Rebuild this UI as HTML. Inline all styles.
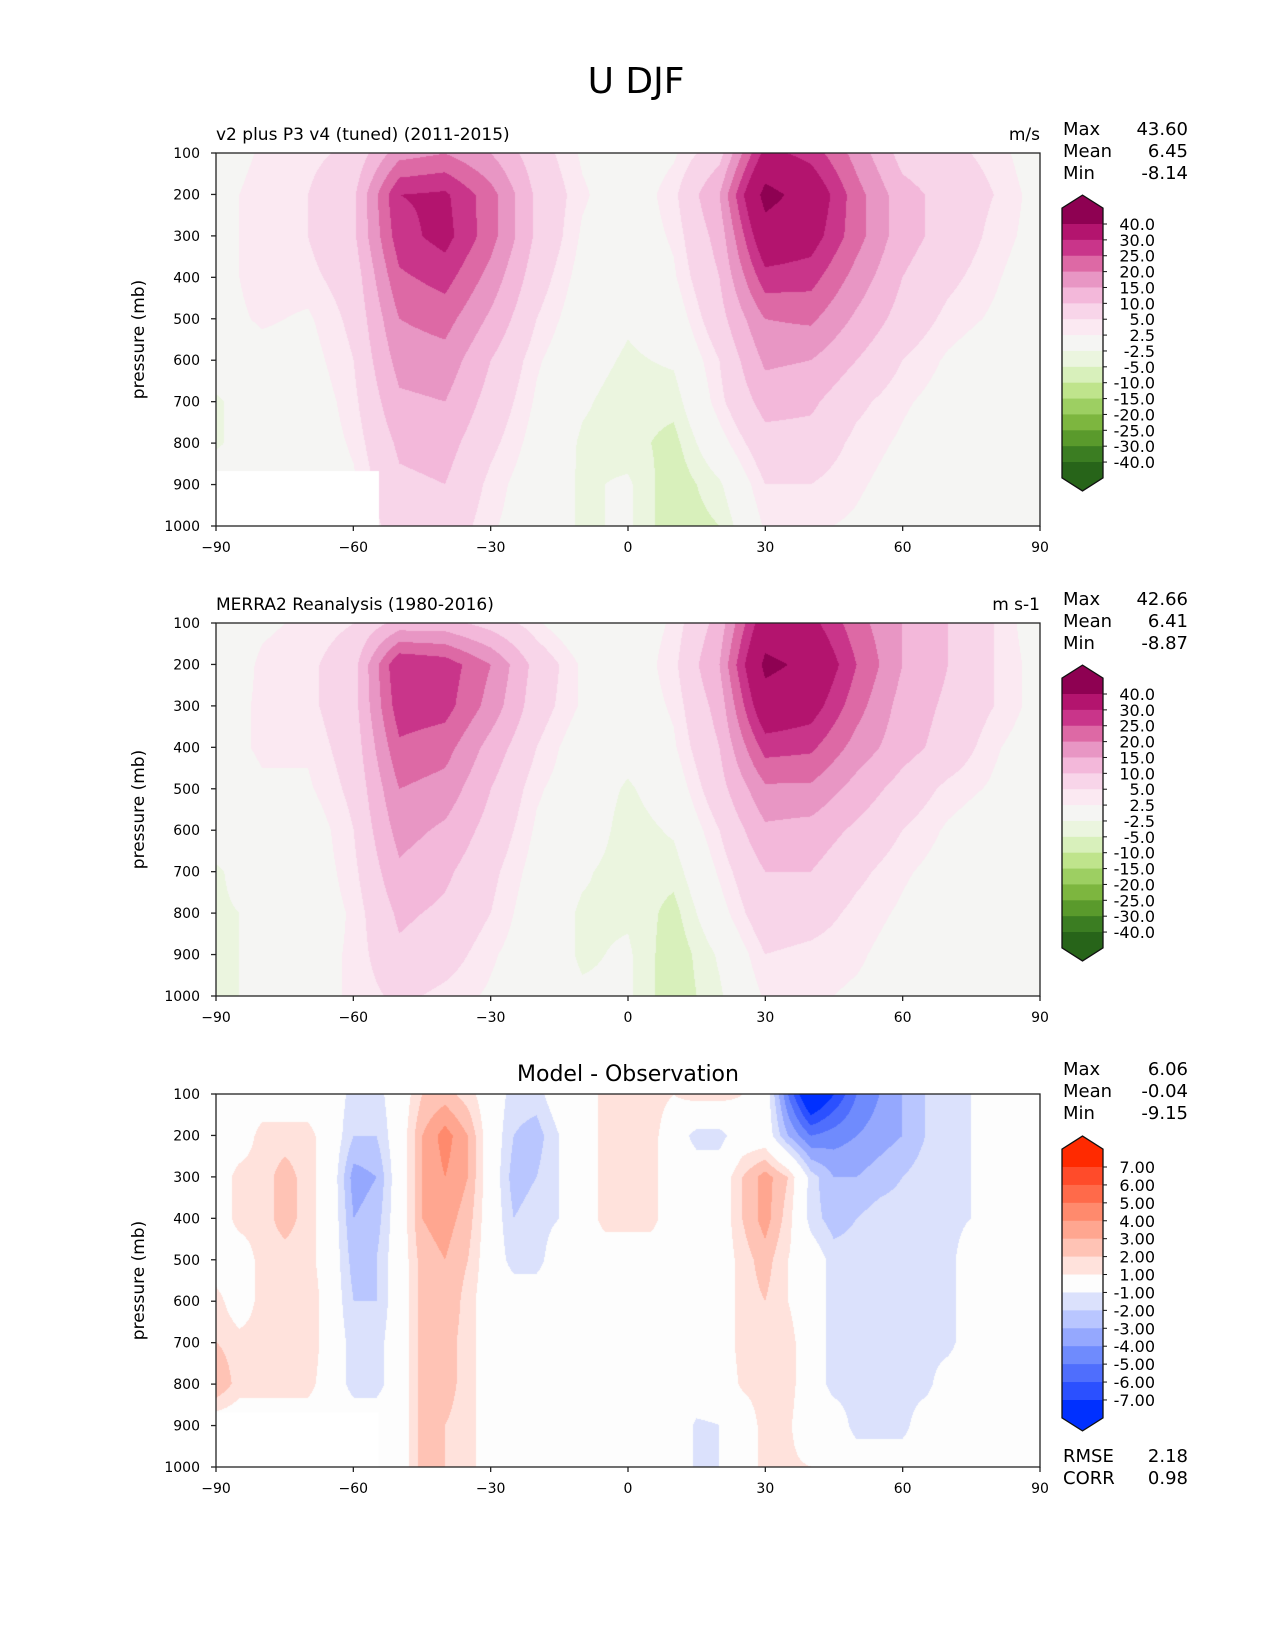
<!DOCTYPE html>
<html><head><meta charset="utf-8"><style>
body{margin:0;background:#fff;}
#root{position:relative;width:1275px;height:1650px;overflow:hidden;font-family:"DejaVu Sans","Liberation Sans",sans-serif;}
canvas{position:absolute;}
svg{position:absolute;left:0;top:0;font-family:"DejaVu Sans","Liberation Sans",sans-serif;}
</style></head><body>
<div id="root">
<canvas id="c1" width="824" height="373" style="left:216px;top:153px"></canvas>
<canvas id="c2" width="824" height="373" style="left:216px;top:623px"></canvas>
<canvas id="c3" width="824" height="373" style="left:216px;top:1094px"></canvas>
<svg id="ov" width="1275" height="1650"></svg>
</div>
<script>
const lats=[-90,-80,-70,-60,-50,-40,-30,-20,-10,0,10,20,30,40,50,60,70,80,90];
const diffLats=[-90,-85,-80,-75,-70,-65,-60,-55,-50,-45,-40,-35,-30,-25,-20,-15,-10,-5,0,5,10,15,20,25,30,35,40,45,50,55,60,65,70,75,80,85,90];
const pressures=[100,200,300,400,500,600,700,800,900,1000];
const modelU=[
[0,3,4,6,18,20,15,7,2,0,2,8,32,28,18,8,6,4,0],
[1,4,5,9,30,31,22,9,3,0,4,15,43,36,22,12,8,5,1],
[1,4,5,9,28,32,22,9,2,0,3,12,36,33,22,12,8,4,1],
[1,4,4,7,24,27,18,7,1,-1,2,10,28,27,18,10,6,3,0],
[1,3,2,6,20,22,14,5,0,-2,0,8,20,21,14,8,4,2,0],
[0,1,1,5,17,18,10,3,-1,-3,-2,5,16,15,10,5,2,0,0],
[-3,0,0,4,14,15,8,2,-2,-4,-4,4,12,11,6,3,1,0,0],
[-3,0,0,3,11,12,6,1,-3,-4,-6,1,8,8,4,2,0,0,0],
[0,0,0,2,9,10,4,0,-3,-2,-7,-3,5,5,3,1,0,0,0],
[0,0,0,2,7,8,3,0,-3,-2,-7,-5,3,3,2,0,0,0,0]];
const obsU=[
[0,2,3,5,12,12,8,3,-1,0,3,12,35,32,22,15,10,5,0],
[0,3,4,8,30,28,20,8,2,0,4,15,42,38,25,15,10,5,1],
[1,3,4,8,28,27,18,7,2,0,3,12,36,33,22,13,9,5,1],
[1,3,3,7,24,22,13,5,0,-1,2,10,27,26,18,12,8,3,0],
[0,2,2,6,20,18,10,3,0,-3,0,8,19,19,13,8,4,2,0],
[0,0,0,5,17,14,8,2,0,-4,-2,5,14,13,9,5,2,0,0],
[-3,0,0,4,14,11,6,1,-2,-4,-4,3,10,10,6,3,1,0,0],
[-3,-2,0,3,11,9,5,0,-3,-3,-6,1,8,7,4,2,0,0,0],
[-3,-2,1,3,9,7,3,0,-3,-2,-7,-2,5,4,3,1,0,0,0],
[-3,-2,1,3,6,4,2,0,-2,-2,-7,-3,3,3,2,1,0,0,0]];
const diffU=[
[0,0,0,0,0,0,-1.5,-1.5,0,2,2.5,1.5,0,-1.5,-1.5,0,0,1.5,1.5,1.5,1,1.5,1.5,1,0,-5,-9,-7,-5,-4,-3,-2,-1.5,-1,0,0,0],
[0,0,1.5,1.5,1.5,0,-2,-2,0,3,4.5,3,0,-2,-2.5,-1,0,1.5,1.5,1.5,0,-1.5,-1.5,0,0,-3,-5,-4.5,-4,-3.5,-3,-2,-1.5,-1,0,0,0],
[0,1.5,1.5,2.5,1.5,0,-3.5,-3,0,3,4,3,0,-2.5,-2,-1,0,1.5,1.5,1.5,0,0,0,2,3.5,2,-1.5,-3,-3,-2.5,-2,-1.5,-1.5,-1,0,0,0],
[0,1.5,1.5,2.5,1.5,0,-3,-2.5,0,3,3.5,2.5,0,-2,-1.5,-1,0,1.5,1.5,1.5,0,0,0,2,3.5,1.5,-1.5,-2.5,-2,-1.5,-1.5,-1.5,-1.5,-1,0,0,0],
[0,0,1.5,1.5,1.5,0,-2.5,-2,0,2.5,3,2,0,-1.5,-1.5,0,0,0,0,0,0,0,0,1.5,2.5,1,0,-1.5,-1.5,-1.5,-1.5,-1.5,-1.5,0,0,0,0],
[1.5,0,1.5,1.5,2,0,-2,-2,0,2.5,3,1.5,0,0,0,0,0,0,0,0,0,0,0,1.5,2,1,0,-1.5,-1.5,-1.5,-1.5,-1.5,-1.5,0,0,0,0],
[2,1.5,1.5,1.5,2,0,-1.5,-1.5,0,2.5,2.5,1.5,0,0,0,0,0,0,0,0,0,0,0,1.5,1.5,1.5,0,-1.5,-1.5,-1.5,-1.5,-1.5,-1.5,0,0,0,0],
[3,1.5,1.5,1.5,1.5,0,-1.5,-1.5,0,2.5,2.5,1.5,0,0,0,0,0,0,0,0,0,0,0,1.2,1.5,1.5,0,-1.5,-1.5,-1.5,-1.5,-1.5,0,0,0,0,0],
[0,0,0,0,0,0,0,0,0,2.5,2,1.5,0,0,0,0,0,0,0,0,0,-1.2,-1,0,1.5,1.2,0,0,-1.5,-1.5,-1.5,0,0,0,0,0,0],
[0,0,0,0,0,0,0,0,0,2.5,2,1.5,0,0,0,0,0,0,0,0,0,-1.2,-1,0,1.5,1.2,1,0,0,0,0,0,0,0,0,0,0]];
const uLevels=[40,30,25,20,15,10,5,2.5,-2.5,-5,-10,-15,-20,-25,-30,-40];
const uLabels=["40.0","30.0","25.0","20.0","15.0","10.0","5.0","2.5","-2.5","-5.0","-10.0","-15.0","-20.0","-25.0","-30.0","-40.0"];
const uColors=["#8e0152","#b3146e","#c9358a","#dd69a5","#e896c4","#f3b8da","#f8d5e9","#fbe9f2","#f5f5f3","#ebf5df","#d8f0bb","#bfe48c","#9dcf62","#7db63f","#5a9a2c","#3b7d22","#276419"];
const dLevels=[7,6,5,4,3,2,1,-1,-2,-3,-4,-5,-6,-7];
const dLabels=["7.00","6.00","5.00","4.00","3.00","2.00","1.00","-1.00","-2.00","-3.00","-4.00","-5.00","-6.00","-7.00"];
const dColors=["#ff2a00","#ff4b2a","#ff6a4a","#ff8a6d","#ffa690","#ffc3b5","#ffe2dc","#fdfdfd","#dbe1fc","#b9c6ff","#95a8fe","#6f8bfd","#4f6efd","#2b50ff","#0030ff"];
const xTicks=[-90,-60,-30,0,30,60,90];

const PX=216,PW=824,PH=373;
function xs(lat){return PX+(lat+90)/180*PW;}
function hex(c){return [parseInt(c.slice(1,3),16),parseInt(c.slice(3,5),16),parseInt(c.slice(5,7),16)];}
function drawField(id,field,gl,levels,colors,mask){
  const cv=document.getElementById(id),ctx=cv.getContext('2d');
  const img=ctx.createImageData(PW,PH),rgb=colors.map(hex);
  const dl=gl[1]-gl[0],dp=pressures[1]-pressures[0];
  for(let py=0;py<PH;py++){
    const p=100+py/(PH-1)*900;
    const j=(p-pressures[0])/dp; const j0=Math.min(Math.floor(j),pressures.length-2); const fj=j-j0;
    for(let px=0;px<PW;px++){
      const lat=-90+px/(PW-1)*180;
      const i=(lat-gl[0])/dl; const i0=Math.min(Math.floor(i),gl.length-2); const fi=i-i0;
      const v=(field[j0][i0]*(1-fi)+field[j0][i0+1]*fi)*(1-fj)+(field[j0+1][i0]*(1-fi)+field[j0+1][i0+1]*fi)*fj;
      let k=0; for(const l of levels){if(l>v)k++;}
      let c=rgb[k];
      if(mask&&lat<-54.5&&p>867)c=[255,255,255];
      const o=(py*PW+px)*4; img.data[o]=c[0];img.data[o+1]=c[1];img.data[o+2]=c[2];img.data[o+3]=255;
    }
  }
  ctx.putImageData(img,0,0);
}
drawField('c1',modelU,lats,uLevels,uColors,true);
drawField('c2',obsU,lats,uLevels,uColors,false);
drawField('c3',diffU,diffLats,dLevels,dColors,true);

const NS='http://www.w3.org/2000/svg',svg=document.getElementById('ov');
function el(tag,attrs,txt){const e=document.createElementNS(NS,tag);for(const k in attrs)e.setAttribute(k,attrs[k]);if(txt!==undefined)e.textContent=txt;svg.appendChild(e);return e;}
function text(x,y,s,size,anchor,name){const t=el('text',{x:x,y:y,'font-size':size,'text-anchor':anchor||'start',fill:'#000'},s);


return t;}

text(636,93,"U DJF",36,'middle','figure-title');

function axes(top,idx,left,right,center){
  const r=el('rect',{x:PX,y:top,width:PW,height:PH,fill:'none',stroke:'#222','stroke-width':1.3});
  
  
  for(const t of xTicks){const x=xs(t);
    el('line',{x1:x,y1:top+PH,x2:x,y2:top+PH+5,stroke:'#222','stroke-width':1.3});
    text(x,top+PH+26,t<0?'\u2212'+(-t):String(t),14,'middle','x-tick-label');}
  for(const p of pressures){const y=top+(p-100)/900*PH;
    el('line',{x1:PX-5,y1:y,x2:PX,y2:y,stroke:'#222','stroke-width':1.3});
    text(PX-16,y+5,String(p),14,'end','y-tick-label');}
  const yt=text(0,0,"pressure (mb)",17,'middle','y-axis-title');
  yt.setAttribute('transform','translate(144,'+(top+PH/2)+') rotate(-90)');
  if(left)text(PX,top-13,left,17,'start','panel-title');
  if(right)text(PX+PW,top-13,right,17,'end','units-label');
  if(center)text(628,top-13,center,22,'middle','panel-title');
}
axes(153,1,"v2 plus P3 v4 (tuned) (2011-2015)","m/s");
axes(623,2,"MERRA2 Reanalysis (1980-2016)","m s-1");
axes(1094,3,null,null,"Model - Observation");

function stats(top,vals){
  const names=["Max","Mean","Min"];
  for(let i=0;i<3;i++){text(1063,top+i*22,names[i],18,'start','stat-name');text(1188,top+i*22,vals[i],18,'end','stat-value');}
}
stats(135,["43.60","6.45","-8.14"]);
stats(605,["42.66","6.41","-8.87"]);
stats(1075,["6.06","-0.04","-9.15"]);
text(1063,1462,"RMSE",18,'start','rmse-label');text(1188,1462,"2.18",18,'end','rmse-value');
text(1063,1484,"CORR",18,'start','corr-label');text(1188,1484,"0.98",18,'end','corr-value');

function colorbar(y0,step,labels,colors,idx){
  const x0=1062,x1=1103,n=labels.length,yEnd=y0+(n-1)*step,xm=(x0+x1)/2,tri=13;
  el('polygon',{points:`${x0},${y0} ${x0},${y0-step} ${xm},${y0-step-tri} ${x1},${y0-step} ${x1},${y0}`,fill:colors[0]});
  for(let i=0;i<n-1;i++){el('rect',{x:x0,y:y0+i*step,width:x1-x0,height:step+0.5,fill:colors[i+1]});}
  el('polygon',{points:`${x0},${yEnd} ${x0},${yEnd+step} ${xm},${yEnd+step+tri} ${x1},${yEnd+step} ${x1},${yEnd}`,fill:colors[colors.length-1]});
  const o=el('polygon',{points:`${x0},${yEnd+step} ${x0},${y0-step} ${xm},${y0-step-tri} ${x1},${y0-step} ${x1},${yEnd+step} ${xm},${yEnd+step+tri}`,fill:'none',stroke:'#111','stroke-width':1.3});
  
  
  for(let i=0;i<n;i++){const y=y0+i*step;
    el('line',{x1:x1,y1:y,x2:x1+4,y2:y,stroke:'#111'});
    text(1155,y+6,labels[i],16,'end','colorbar-tick-label');}
}
colorbar(224,15.87,uLabels,uColors,1);
colorbar(694,15.87,uLabels,uColors,2);
colorbar(1167,17.92,dLabels,dColors,3);
</script>
</body></html>
